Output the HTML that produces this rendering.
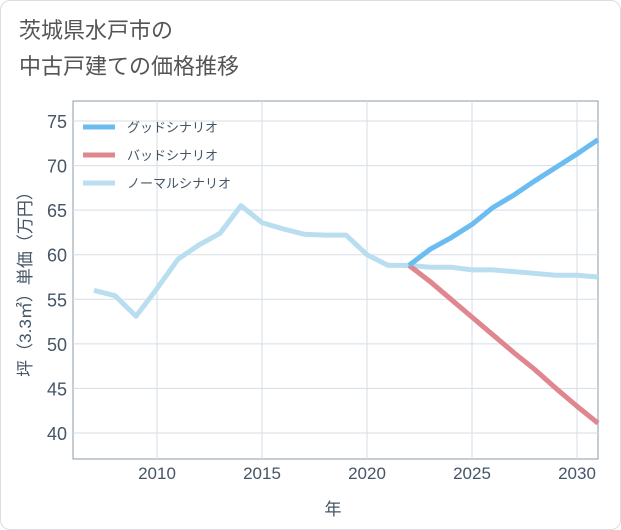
<!DOCTYPE html>
<html><head><meta charset="utf-8"><style>
body{margin:0;background:#fff;}
.wrap{position:relative;width:619px;height:528px;border:1px solid #ddd;border-radius:10px;overflow:hidden;font-family:"Liberation Sans","Noto Sans CJK JP",sans-serif;}
.title{position:absolute;left:18px;top:12px;font-size:22px;line-height:36px;color:#555;}
</style></head><body>
<div class="wrap">
<div class="title">茨城県水戸市の<br>中古戸建ての価格推移</div>
<svg id="c" width="621" height="530" style="position:absolute;left:0;top:0"></svg>
</div>
<script>
const years=[2007,2008,2009,2010,2011,2012,2013,2014,2015,2016,2017,2018,2019,2020,2021,2022,2023,2024,2025,2026,2027,2028,2029,2030,2031];
const normal=[56,55.4,53.1,56.2,59.5,61.1,62.4,65.5,63.6,62.9,62.3,62.2,62.2,60.0,58.8,58.8,58.6,58.6,58.3,58.3,58.1,57.9,57.7,57.7,57.5];
const futureYears=[2022,2023,2024,2025,2026,2027,2028,2029,2030,2031];
const good=[58.8,60.6,61.9,63.4,65.3,66.7,68.3,69.8,71.3,72.9];
const bad=[58.8,57.0,55.0,53.0,51.0,49.0,47.1,45.0,43.0,41.1];
const xTicks=[2010,2015,2020,2025,2030];
const yTicks=[40,45,50,55,60,65,70,75];
const legendLabels=["グッドシナリオ","バッドシナリオ","ノーマルシナリオ"];
const colors=["#6bbcf0","#e0868e","#b9def0"];
const L=72,R=597,T=100,B=458;
const x=v=>L+(v-2006)*(R-L)/25;
const y=v=>120+(75-v)*312/35;
const svg=document.getElementById('c');
function mk(t,a,p){const e=document.createElementNS('http://www.w3.org/2000/svg',t);for(const k in a)e.setAttribute(k,a[k]);(p||svg).appendChild(e);return e;}
let e=mk('rect',{x:L,y:T,width:R-L,height:B-T,fill:'none',stroke:'#8899aa','stroke-width':1});


yTicks.forEach(v=>{
 let g=mk('line',{x1:L,x2:R,y1:y(v),y2:y(v),stroke:'#d5dde6'});
 
 
 let t=mk('text',{x:L-6,y:y(v)+7,'text-anchor':'end','font-size':18,fill:'#445566'});t.textContent=v;
 
 
});
xTicks.forEach(v=>{
 let g=mk('line',{x1:x(v),x2:x(v),y1:T,y2:B,stroke:'#d5dde6'});
 
 
 let t=mk('text',{x:x(v),y:B+20,'text-anchor':'middle','font-size':17,fill:'#445566'});t.textContent=v;
 
 
});
function line(xs,ys,c,n){const p=mk('polyline',{points:xs.map((v,i)=>x(v)+','+y(ys[i])).join(' '),fill:'none',stroke:c,'stroke-width':5,'stroke-linejoin':'round'});
 
 }
line(years,normal,colors[2],'normal-scenario-line');
line(futureYears,bad,colors[1],'bad-scenario-line');
line(futureYears,good,colors[0],'good-scenario-line');
legendLabels.forEach((s,i)=>{
 const ly=126+i*28;
 let l=mk('line',{x1:82,x2:114,y1:ly,y2:ly,stroke:colors[i],'stroke-width':5});
 
 
 let t=mk('text',{x:126,y:ly+5,'font-size':13,fill:'#445566'});t.textContent=s;
 
 
});
let xt=mk('text',{x:332,y:514,'text-anchor':'middle','font-size':17,fill:'#445566'});xt.textContent='年';


let yt=mk('text',{x:0,y:0,'text-anchor':'middle','font-size':17,fill:'#445566',transform:'translate(30,279) rotate(-90)'});yt.textContent='坪（3.3㎡）単価（万円）';


</script>
</body></html>
